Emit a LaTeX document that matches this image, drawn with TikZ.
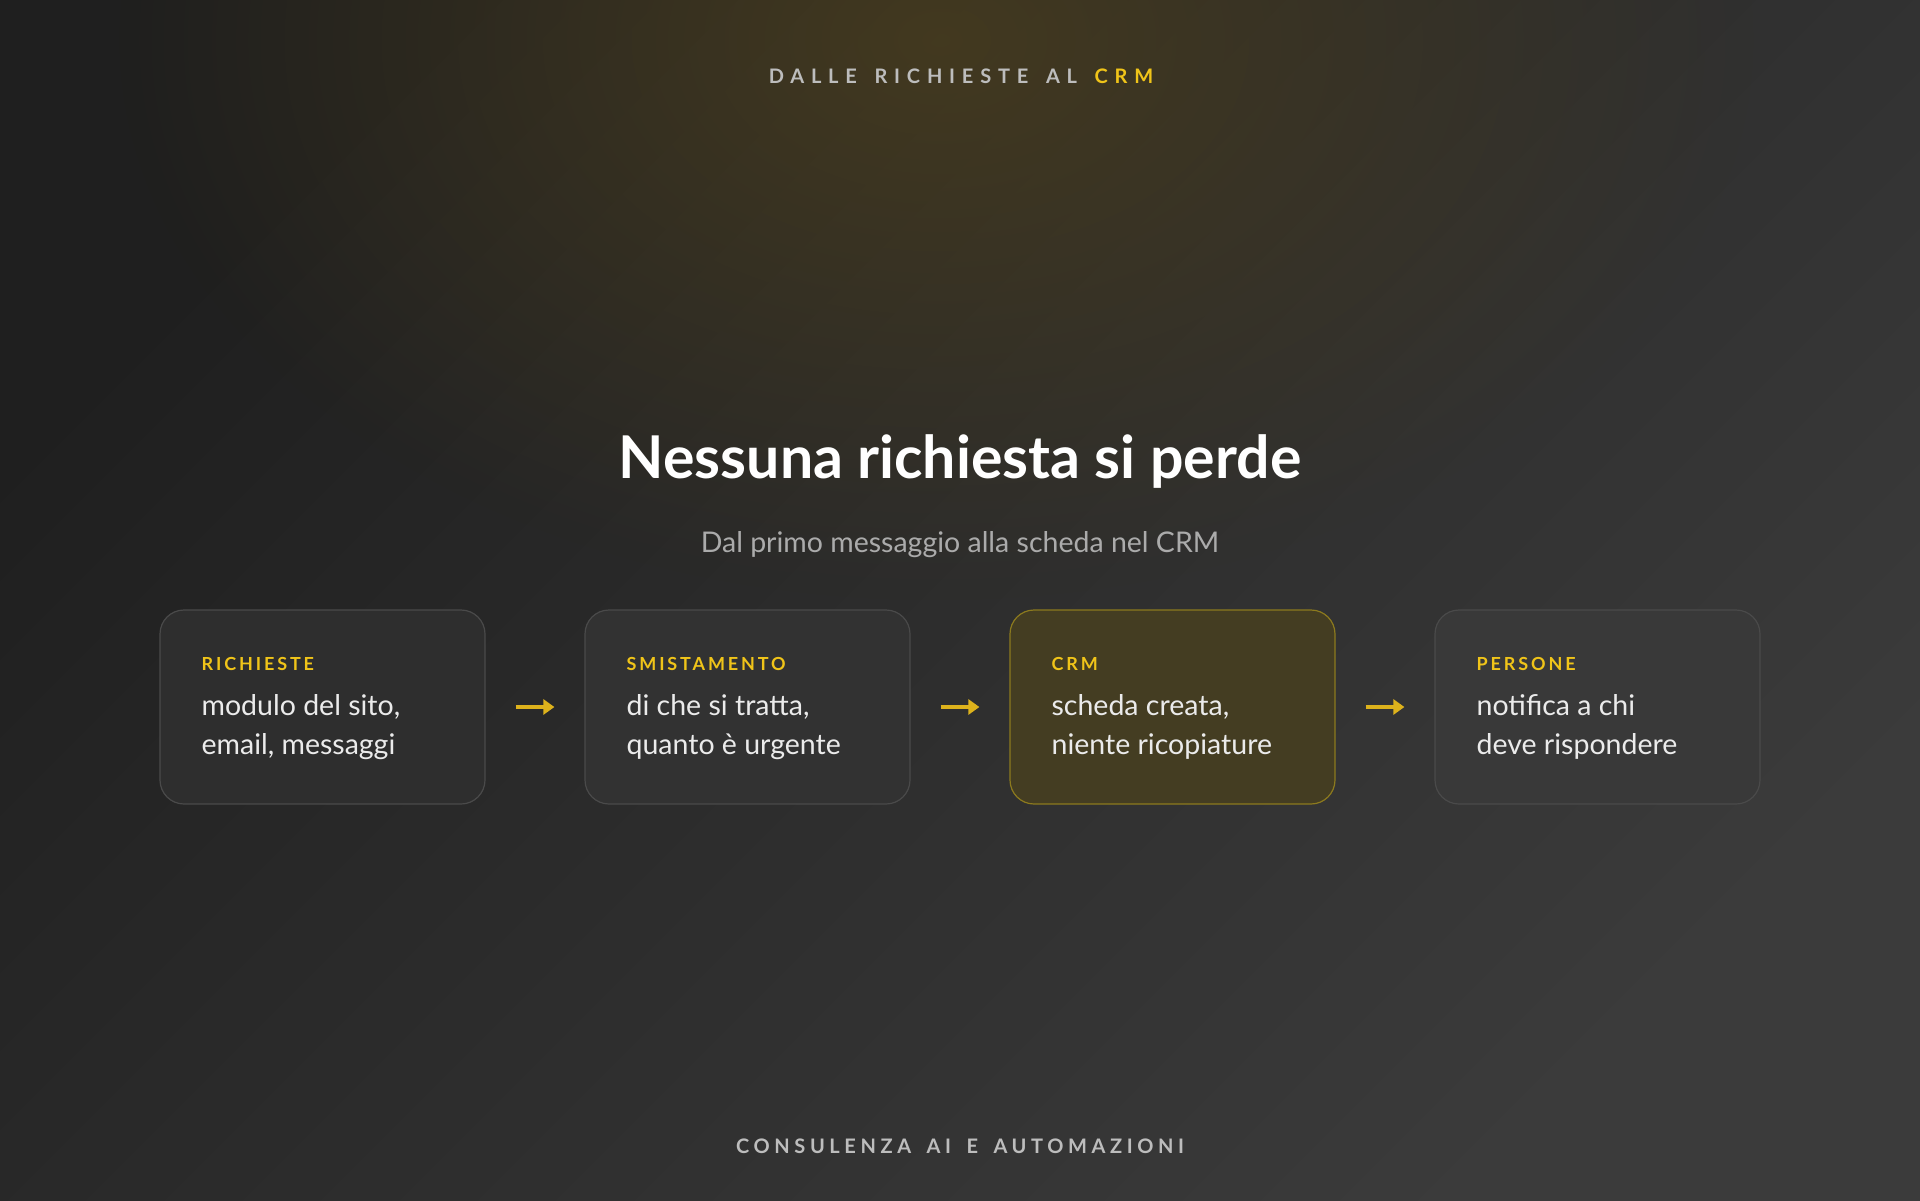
\documentclass[tikz,border=0pt]{standalone}
\usepackage{fontspec}
\setmainfont{Lato}
\newfontfamily\trackhead[LetterSpace=34]{Lato}
\newfontfamily\trackfoot[LetterSpace=23]{Lato}
\newfontfamily\trackmid[LetterSpace=16]{Lato}
\usetikzlibrary{arrows.meta,fadings,positioning}
\definecolor{bgdark}{HTML}{1F1F1F}
\definecolor{bglight}{HTML}{3B3B3B}
\definecolor{glowcol}{HTML}{4A3E1E}
\definecolor{gold}{HTML}{F0C419}
\definecolor{arrowgold}{HTML}{DDB21C}
\definecolor{cardfill}{HTML}{2E2E2E}
\definecolor{cardfilltwo}{HTML}{323232}
\definecolor{cardfillfour}{HTML}{393939}
\definecolor{cardline}{HTML}{4A4A4A}
\definecolor{crmfill}{HTML}{443D22}
\definecolor{crmline}{HTML}{8C7A1E}
\definecolor{bodytext}{HTML}{EBEBEB}
\definecolor{subtext}{HTML}{ABABAB}
\definecolor{greytrack}{HTML}{BDBDBD}
\tikzfading[name=glowfade, inner color=transparent!20, outer color=transparent!100]
\tikzset{
  card/.style={draw=cardline, line width=1.2pt, fill=cardfill, rounded corners=24pt,
    minimum width=325pt, minimum height=194pt, inner sep=0pt},
  crmcard/.style={card, draw=crmline, fill=crmfill},
  cardlabel/.style={anchor=base west, inner sep=0pt, text=gold,
    font=\trackmid\bfseries\fontsize{18}{22}\selectfont},
  cardbody/.style={anchor=base west, inner sep=0pt, text=bodytext,
    font=\fontsize{28.5}{38}\selectfont, align=left},
  flow/.style={draw=arrowgold, line width=4pt, -{Triangle[length=11pt,width=15pt]},
    shorten <=30pt, shorten >=30pt},
}
\newcommand{\wsp}{\hspace{6pt}}
\begin{document}
\begin{tikzpicture}[x=1pt,y=-1pt]
\useasboundingbox (0,0) rectangle (1920,1200);
% background
\shade[top color=bgdark, bottom color=bglight, shading angle=45] (0,0) rectangle (1920,1200);
\fill[glowcol, path fading=glowfade] (940,40) ellipse (820pt and 560pt);
% header
\node[anchor=base, inner sep=0pt, font=\trackhead\bfseries\fontsize{20}{24}\selectfont, text=greytrack]
  (header) at (961,83) {DALLE \wsp RICHIESTE \wsp AL \wsp\textcolor{gold}{CRM}};
\node[anchor=base, inner sep=0pt, font=\bfseries\fontsize{59}{66}\selectfont, text=white]
  (title) at (960,478) {Nessuna richiesta si perde};
\node[anchor=base, inner sep=0pt, font=\fontsize{28.5}{34}\selectfont, text=subtext]
  (subtitle) at (960,552) {Dal primo messaggio alla scheda nel CRM};
% cards
\node[card] (c1) at (322.5,707) {};
\node[card, fill=cardfilltwo] (c2) at (747.5,707) {};
\node[crmcard] (c3) at (1172.5,707) {};
\node[card, fill=cardfillfour] (c4) at (1597.5,707) {};
\foreach \c/\lab/\la/\lb in {c1/RICHIESTE/{modulo del sito,}/{email, messaggi},
  c2/SMISTAMENTO/{di che si tratta,}/{quanto è urgente},
  c3/CRM/{scheda creata,}/{niente ricopiature},
  c4/PERSONE/{notifica a chi}/{deve rispondere}}{
  \node[cardlabel] (\c-lab) at ([xshift=42pt,yshift=-61pt]\c.north west) {\lab};
  \node[cardbody] (\c-la) at ([xshift=42pt,yshift=-106pt]\c.north west) {\la};
  \node[cardbody] (\c-lb) at ([xshift=42pt,yshift=-145pt]\c.north west) {\lb};
}
\draw[flow] (c1) -- (c2);
\draw[flow] (c2) -- (c3);
\draw[flow] (c3) -- (c4);
% footer
\node[anchor=base, inner sep=0pt, font=\trackfoot\bfseries\fontsize{20}{24}\selectfont, text=greytrack]
  (footer) at (960,1153) {CONSULENZA \wsp AI \wsp E \wsp AUTOMAZIONI};
\end{tikzpicture}
\end{document}
